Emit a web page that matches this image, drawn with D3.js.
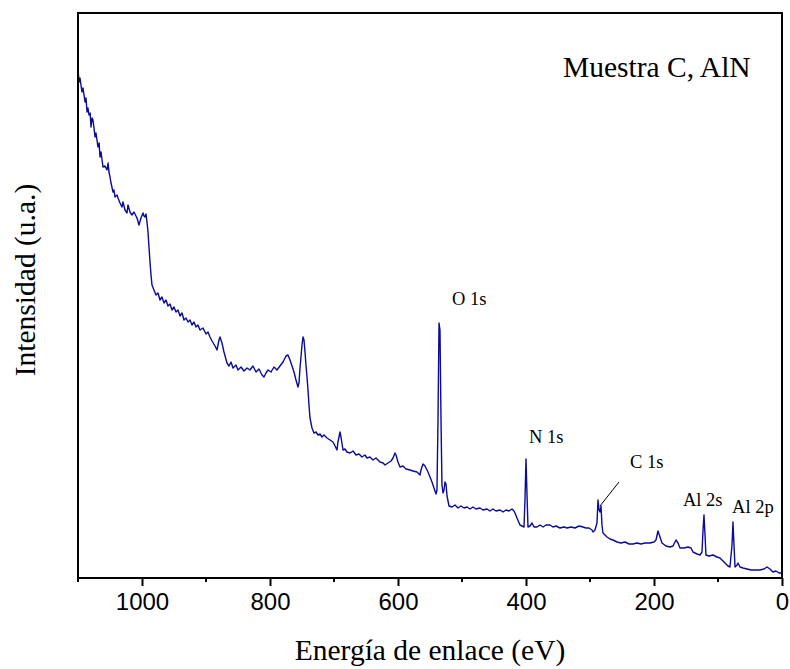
<!DOCTYPE html>
<html>
<head>
<meta charset="utf-8">
<script src="https://cdn.jsdelivr.net/npm/d3@7"></script>
<style>
  body { margin: 0; background: #fff; }
  svg { display: block; }
</style>
</head>
<body>
<div id="chart"></div>
<script>
// XPS survey spectrum (binding energy in eV, intensity in a.u.)
const energia = [
  1100, 1099.5, 1098.4, 1096.9, 1093.8, 1092.2, 1089, 1087.5, 1085.9, 1084.4, 1082.8, 1081, 1079.7, 1078, 1076.6, 1075,
  1073.4, 1071.9, 1068.8, 1067, 1065.6, 1064, 1061, 1057.8, 1054.7, 1053, 1051.6, 1050, 1048.4, 1045.3, 1043.8, 1042.2,
  1039, 1037.5, 1034.4, 1031.3, 1029.7, 1026.6, 1023.4, 1021.9, 1018.8, 1015.6, 1012.5, 1007.8, 1004.7, 1001.6, 998.4,
  996.9, 995.3, 993.8, 992.2, 990.6, 989.1, 987.5, 985.9, 984.4, 981.3, 978.1, 975, 971.9, 968.8, 965.6, 962.5, 959.4,
  956.3, 953.1, 950, 946.9, 943.8, 940.6, 937.5, 934.4, 931.3, 928.1, 925, 921.9, 918.8, 915.6, 912.5, 909.4, 904.7,
  900, 896.9, 893.8, 890.6, 885.9, 882.8, 879.7, 878.1, 875, 871.9, 867.2, 864.1, 860.9, 857.8, 853.1, 850, 845.3,
  840.6, 835.9, 831.3, 826.6, 821.9, 817.2, 812.5, 809.4, 806.3, 803.1, 798.4, 793.8, 789.1, 784.4, 779.7, 775, 771.9,
  768.8, 765.6, 762.5, 759.4, 756.3, 754.7, 753.1, 750, 748.4, 746.9, 745.3, 743.8, 742.2, 740.6, 739.1, 737.5, 734.4,
  731.3, 728.1, 725, 721.9, 718.8, 715.6, 710.9, 706.3, 701.6, 698.4, 695.3, 693.8, 690.6, 689.1, 685.9, 682.8, 679.7,
  675, 670.3, 665.6, 660.9, 656.3, 651.6, 648.4, 643.8, 639.1, 634.4, 628.1, 623.4, 620.3, 615.6, 610.9, 607.8, 604.7,
  603.1, 600, 596.9, 592.2, 587.5, 581.3, 576.6, 570.3, 565.6, 564.1, 560.9, 557.8, 553.1, 550, 546.9, 543.8, 540.6,
  539.1, 537.5, 535.9, 534.4, 532.8, 531.3, 529.7, 528.1, 526.6, 525, 523.4, 520.3, 515.6, 510.9, 506.3, 501.6, 496.9,
  492.2, 487.5, 482.8, 478.1, 471.9, 467.2, 460.9, 456.3, 451.6, 446.9, 440.6, 435.9, 431.3, 426.6, 421.9, 418.8, 417.2,
  414.1, 409.4, 406.3, 403.1, 401.6, 400, 398.4, 396.9, 393.8, 390.6, 387.5, 382.8, 378.1, 373.4, 368.8, 362.5, 357.8,
  353.1, 346.9, 340.6, 335.9, 329.7, 323.4, 317.2, 310.9, 306.3, 301.6, 296.9, 295.3, 292.2, 289.1, 287.5, 285.9, 284.4,
  282.8, 281.3, 279.7, 276.6, 273.4, 268.8, 264.1, 257.8, 251.6, 245.3, 239.1, 232.8, 226.6, 220.3, 214.1, 206.3, 200,
  196.9, 193.8, 190.6, 187.5, 181.3, 175, 170.3, 165.6, 162.5, 159.4, 153.1, 146.9, 142.2, 139.1, 132.8, 128.1, 125,
  123.4, 121.9, 120.3, 118.8, 114.1, 107.8, 101.6, 96.9, 92.2, 87.5, 84.4, 81.3, 78.1, 76.6, 75, 73.4, 70.3, 68.8, 65.6,
  60.9, 54.7, 48.4, 42.2, 34.4, 28.1, 23.4, 18.8, 14.1, 9.4, 4.7, 0
];
const intensidad = [
  445, 505, 496, 500, 486, 490, 476, 480, 466, 470, 463, 465, 451, 460, 458, 450,
  441, 445, 431, 435, 421, 426, 411, 412, 408, 415, 406, 401, 395, 386, 388, 381,
  383, 380, 375, 371, 376, 368, 365, 373, 366, 363, 366, 360, 353, 360, 365,
  362, 361, 364, 356, 346, 331, 316, 303, 293, 288, 283, 285, 278, 281, 275, 278, 272,
  274, 268, 271, 266, 268, 262, 265, 258, 260, 256, 258, 253, 256, 251, 253, 248, 250,
  244, 246, 241, 237, 232, 228, 238, 241, 235, 226, 215, 212, 216, 210, 213, 208, 211,
  207, 210, 208, 212, 206, 209, 203, 201, 205, 208, 206, 211, 208, 212, 216, 222, 223,
  218, 212, 206, 198, 191, 195, 210, 233, 241, 238, 226, 213, 201, 188, 173, 160, 150,
  145, 146, 143, 144, 141, 143, 140, 138, 136, 132, 128, 136, 146, 141, 128, 129, 126,
  125, 127, 123, 124, 121, 123, 120, 121, 118, 120, 116, 115, 113, 115, 117, 120, 125,
  123, 116, 111, 112, 109, 108, 107, 106, 103, 108, 114, 112, 106, 101, 96, 90, 84,
  88, 158, 255, 248, 158, 93, 85, 88, 96, 94, 82, 72, 71, 73, 70, 72, 70,
  71, 69, 71, 69, 70, 68, 69, 67, 69, 67, 68, 66, 68, 67, 69, 67, 65,
  60, 53, 52, 51, 78, 119, 83, 51, 52, 55, 51, 51, 53, 51, 53, 53, 51,
  52, 50, 51, 50, 51, 50, 52, 51, 50, 50, 48, 46, 48, 55, 78, 68, 66,
  72, 53, 45, 43, 41, 39, 38, 36, 35, 36, 34, 34, 35, 34, 35, 35, 36,
  38, 47, 41, 35, 32, 31, 32, 38, 35, 30, 30, 31, 30, 26, 24, 23, 26,
  48, 63, 43, 23, 22, 23, 21, 20, 17, 14, 12, 11, 33, 56, 33, 11, 13, 15, 11,
  10, 9, 8, 8, 8, 9, 11, 9, 6, 7, 5, 5
];

const ticksMayores = [1000, 800, 600, 400, 200, 0];
const ticksMenores = [1100, 900, 700, 500, 300, 100];

const picos = [
  {nombre: "O 1s", e: 515.6, i: 273},
  {nombre: "N 1s", e: 395.3, i: 135},
  {nombre: "C 1s", e: 237.5, i: 110},
  {nombre: "Al 2s", e: 154.7, i: 72},
  {nombre: "Al 2p", e: 78.1, i: 65}
];
// leader line from the C 1s label down to its peak
const lineaC = [{e: 254.7, i: 96}, {e: 284.4, i: 72}];

const width = 790, height = 669;
const margin = {top: 13, right: 8, bottom: 91, left: 78};
const serif = "'Liberation Serif', 'Times New Roman', Times, serif";

const svg = d3.select("#chart").append("svg")
  .attr("width", width)
  .attr("height", height);

const x = d3.scaleLinear()
  .domain([1100, 0])
  .range([margin.left, width - margin.right]);
const y = d3.scaleLinear()
  .domain([0, 565])
  .range([height - margin.bottom, margin.top]);

const data = energia.map((e, k) => ({e: e, i: intensidad[k]}));

const line = d3.line()
  .x(d => x(d.e))
  .y(d => y(d.i));

svg.append("path")
  .datum(data)
  .attr("fill", "none")
  .attr("stroke", "#0a0a9c")
  .attr("stroke-width", 1.4)
  .attr("stroke-linejoin", "round")
  .attr("d", line);

// frame
svg.append("rect")
  .attr("x", margin.left)
  .attr("y", margin.top)
  .attr("width", width - margin.left - margin.right)
  .attr("height", height - margin.top - margin.bottom)
  .attr("fill", "none")
  .attr("stroke", "#000")
  .attr("stroke-width", 2);

// bottom axis
const xAxis = svg.append("g")
  .attr("transform", "translate(0," + (height - margin.bottom) + ")")
  .call(d3.axisBottom(x).tickValues(ticksMayores).tickSize(8).tickPadding(7).tickFormat(d3.format("d")));
xAxis.select(".domain").remove();
xAxis.selectAll(".tick line").attr("stroke-width", 2);
xAxis.selectAll("text")
  .attr("font-family", "'Liberation Sans', Arial, sans-serif")
  .attr("font-size", "24px")
  .attr("fill", "#000");

svg.append("g")
  .attr("transform", "translate(0," + (height - margin.bottom) + ")")
  .selectAll("line")
  .data(ticksMenores)
  .enter()
  .append("line")
  .attr("x1", d => x(d))
  .attr("x2", d => x(d))
  .attr("y1", 0)
  .attr("y2", 4)
  .attr("stroke", "#000")
  .attr("stroke-width", 2);

// peak labels
svg.selectAll("text.pico")
  .data(picos)
  .enter()
  .append("text")
  .attr("class", "pico")
  .attr("x", d => x(d.e))
  .attr("y", d => y(d.i))
  .attr("font-family", serif)
  .attr("font-size", "18.5px")
  .attr("fill", "#000")
  .text(d => d.nombre);

svg.append("line")
  .attr("x1", x(lineaC[0].e))
  .attr("y1", y(lineaC[0].i))
  .attr("x2", x(lineaC[1].e))
  .attr("y2", y(lineaC[1].i))
  .attr("stroke", "#000")
  .attr("stroke-width", 1);

svg.append("text")
  .attr("x", 563)
  .attr("y", 77)
  .attr("font-family", serif)
  .attr("font-size", "29.5px")
  .attr("fill", "#000")
  .text("Muestra C, AlN");

// axis titles
svg.append("text")
  .attr("x", (margin.left + width - margin.right) / 2)
  .attr("y", 660)
  .attr("text-anchor", "middle")
  .attr("font-family", serif)
  .attr("font-size", "29.5px")
  .attr("fill", "#000")
  .text("Energía de enlace (eV)");

svg.append("text")
  .attr("transform", "translate(35,280) rotate(-90)")
  .attr("text-anchor", "middle")
  .attr("font-family", serif)
  .attr("font-size", "29.5px")
  .attr("fill", "#000")
  .text("Intensidad (u.a.)");
</script>
</body>
</html>
